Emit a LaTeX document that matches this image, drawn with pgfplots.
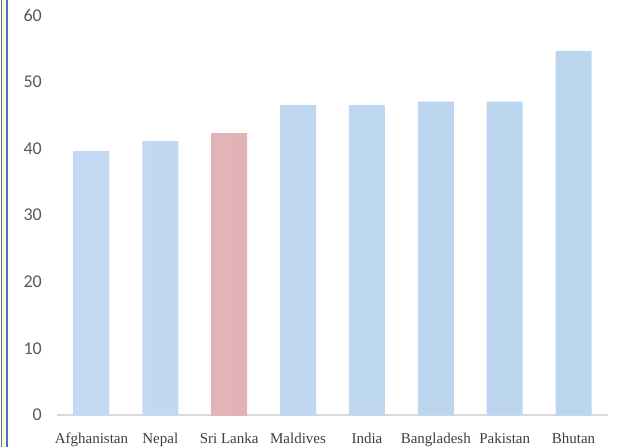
\documentclass[border=0pt]{standalone}
\usepackage{pgfplots}
\pgfplotsset{compat=1.18}
\usepackage{fontspec}
\setmainfont{Liberation Serif}
\newfontfamily\calib{Carlito}
\definecolor{barL}{HTML}{C4D9F3}
\definecolor{barM}{HTML}{D6E7FC}
\definecolor{barR}{HTML}{BAD5EE}
\definecolor{pinkL}{HTML}{E2B4B8}
\definecolor{pinkM}{HTML}{ECC3C6}
\definecolor{pinkR}{HTML}{E0B3B7}
\definecolor{bordblue}{HTML}{4472C4}
\definecolor{cream}{HTML}{FFF8D0}
\definecolor{axgray}{HTML}{D9D9D9}
\definecolor{ticktext}{HTML}{595959}
\begin{document}
\begin{tikzpicture}
\useasboundingbox (0,0) rectangle (618pt,447pt);
\fill[bordblue] (0.8pt,0) rectangle (2.4pt,447pt);
\fill[cream] (2.4pt,0) rectangle (6.2pt,447pt);
\fill[bordblue] (6.2pt,0) rectangle (8.2pt,447pt);
\begin{axis}[
  at={(57pt,32pt)}, anchor=south west,
  scale only axis, width=551pt, height=400pt,
  xmin=-0.5, xmax=7.5, ymin=0, ymax=60,
  xtick={0,1,2,3,4,5,6,7},
  xticklabels={Afghanistan,Nepal,Sri Lanka,Maldives,India,Bangladesh,Pakistan,Bhutan},
  ytick={0,10,20,30,40,50,60},
  /pgf/number format/assume math mode=true,
  axis x line*=bottom, axis y line*=left,
  x axis line style={draw=axgray, line width=2pt, -},
  y axis line style={draw=none},
  tick style={draw=none}, major tick length=0pt,
  yticklabel style={font=\calib\fontsize{18}{18}\selectfont, text=ticktext, anchor=east, inner sep=0pt, xshift=-15pt},
  xticklabel style={font=\fontsize{15}{15}\selectfont, text=ticktext!70!black, anchor=base, inner sep=0pt, yshift=-28pt},
  clip=false,
]
\addplot[ybar, bar width=36pt, bar shift=0pt, draw=none, left color=barL, middle color=barM, right color=barR]
  coordinates {(0,39.6) (1,41.1) (3,46.5) (4,46.5) (5,47.0) (6,47.0) (7,54.6)};
\addplot[ybar, bar width=36pt, bar shift=0pt, draw=none, left color=pinkL, middle color=pinkM, right color=pinkR]
  coordinates {(2,42.3)};
\end{axis}
\end{tikzpicture}
\end{document}
